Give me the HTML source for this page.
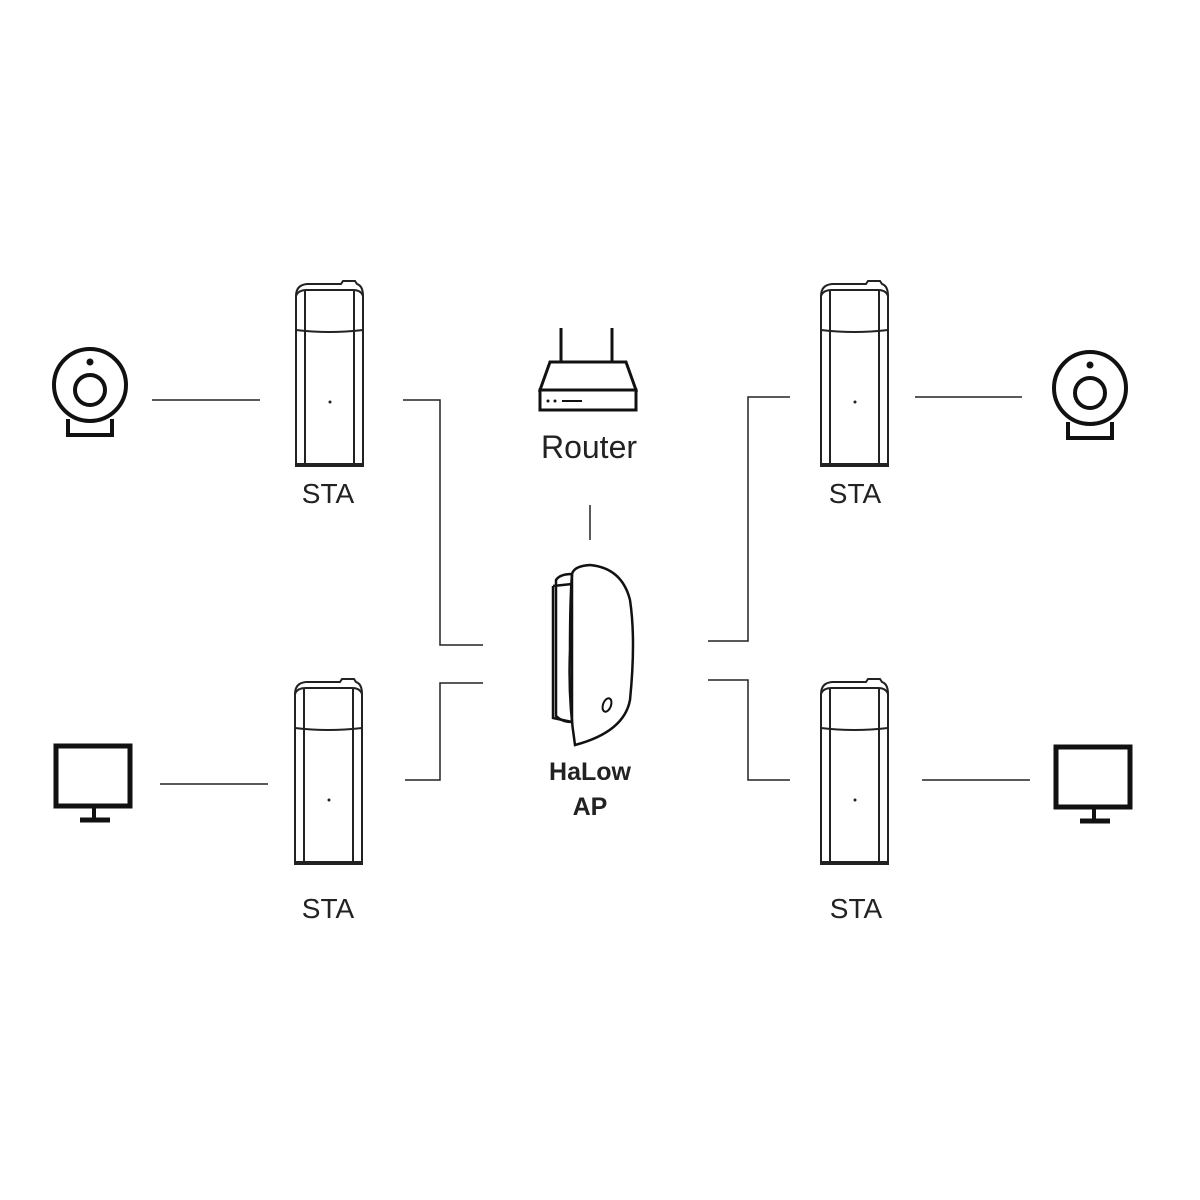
<!DOCTYPE html>
<html><head><style>
html,body{margin:0;padding:0;background:#fff;}
svg{display:block;}
text{font-family:"Liberation Sans",sans-serif;fill:#222;}
</style></head><body>
<svg width="1200" height="1200" viewBox="0 0 1200 1200" xmlns="http://www.w3.org/2000/svg">
<defs>
<g id="sta" fill="none" stroke="#222" stroke-width="2">
  <path d="M1,184 L1,14 Q1,3 12,2 L46,2 L48,-1 L60,-1 L62,2 Q68,4 68,14 L68,184 Z"/>
  <path d="M1,14 Q3,8 12,8 L58,8 Q66,8 68,14"/>
  <path d="M1,48 Q34,52 68,48"/>
  <line x1="10" y1="9" x2="10" y2="184"/>
  <line x1="59" y1="9" x2="59" y2="184"/>
  <line x1="1" y1="183" x2="68" y2="183" stroke-width="4"/>
  <circle cx="35" cy="120" r="1.5" fill="#222" stroke="none"/>
</g>
<g id="cam" fill="none" stroke="#111" stroke-width="4">
  <circle cx="0" cy="0" r="36"/>
  <circle cx="0" cy="5" r="15"/>
  <circle cx="0" cy="-23" r="3.5" fill="#111" stroke="none"/>
  <path d="M-22,34 L-22,50 L22,50 L22,34"/>
</g>
<g id="mon" fill="none" stroke="#111">
  <rect x="0" y="0" width="74" height="60" stroke-width="5"/>
  <line x1="38" y1="62" x2="38" y2="72" stroke-width="4"/>
  <line x1="24" y1="74" x2="54" y2="74" stroke-width="5"/>
</g>
</defs>

<g stroke="#222" stroke-width="1.5" fill="none">
  <line x1="152" y1="400" x2="260" y2="400"/>
  <polyline points="403,400 440,400 440,645 483,645"/>
  <polyline points="483,683 440,683 440,780 405,780"/>
  <line x1="160" y1="784" x2="268" y2="784"/>
  <polyline points="708,641 748,641 748,397 790,397"/>
  <line x1="915" y1="397" x2="1022" y2="397"/>
  <polyline points="708,680 748,680 748,780 790,780"/>
  <line x1="922" y1="780" x2="1030" y2="780"/>
  <line x1="590" y1="505" x2="590" y2="540"/>
</g>

<use href="#sta" x="295" y="282"/>
<use href="#sta" x="820" y="282"/>
<use href="#sta" x="294" y="680"/>
<use href="#sta" x="820" y="680"/>

<use href="#cam" x="90" y="385"/>
<use href="#cam" x="1090" y="388"/>
<use href="#mon" x="56" y="746"/>
<use href="#mon" x="1056" y="747"/>

<g fill="none" stroke="#111" stroke-width="3">
  <line x1="561" y1="328" x2="561" y2="362"/>
  <line x1="612" y1="328" x2="612" y2="362"/>
  <path d="M550,362 L626,362 L636,390 L540,390 Z"/>
  <rect x="540" y="390" width="96" height="20"/>
  <line x1="562" y1="401" x2="582" y2="401" stroke-width="2"/>
</g>
<circle cx="548" cy="401" r="1.5" fill="#111"/><circle cx="555" cy="401" r="1.5" fill="#111"/>

<g fill="none" stroke="#111" stroke-width="2.5">
  <path d="M556,580 Q560,574 572,574 L572,722 Q562,722 556,716 Z"/>
  <path d="M553,586 L572,584 M553,586 L553,718 L572,722"/>
  <path d="M572,574 Q574,566 590,565 Q622,568 630,600 Q636,640 630,700 Q624,732 575,745 Q568,700 570,650 Q570,600 572,574 Z"/>
  <ellipse cx="607" cy="705" rx="4" ry="7" transform="rotate(20 607 705)" stroke-width="2"/>
</g>

<text x="328" y="503" font-size="28" text-anchor="middle">STA</text>
<text x="855" y="503" font-size="28" text-anchor="middle">STA</text>
<text x="328" y="918" font-size="28" text-anchor="middle">STA</text>
<text x="856" y="918" font-size="28" text-anchor="middle">STA</text>
<text x="589" y="458" font-size="32" text-anchor="middle">Router</text>
<text x="590" y="780" font-size="25" font-weight="bold" text-anchor="middle">HaLow</text>
<text x="590" y="815" font-size="25" font-weight="bold" text-anchor="middle">AP</text>
</svg>
</body></html>
